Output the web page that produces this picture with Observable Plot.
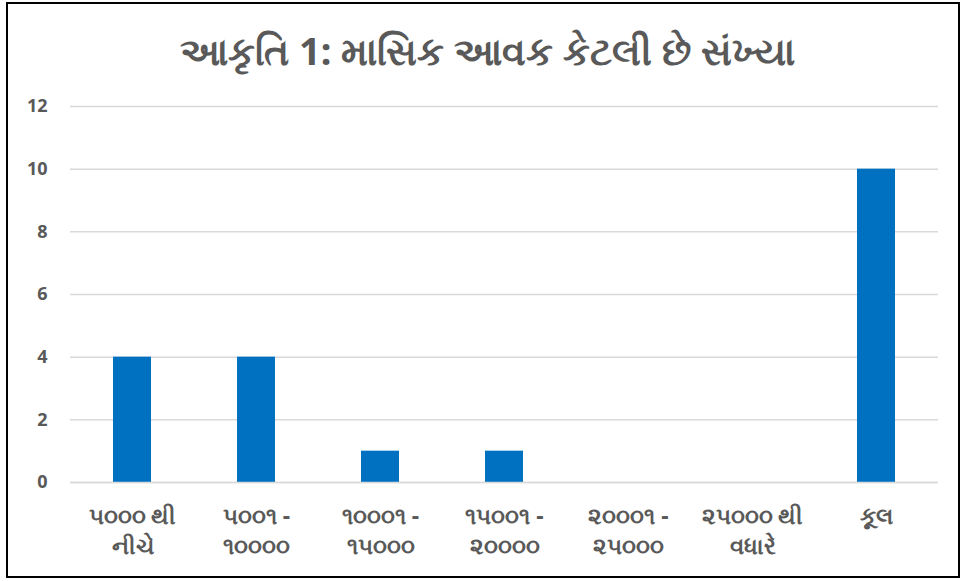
<!DOCTYPE html>
<html>
<head>
<meta charset="utf-8">
<script src="https://cdn.jsdelivr.net/npm/d3@7"></script>
<script src="https://cdn.jsdelivr.net/npm/@observablehq/plot@0.6"></script>
<style>
  html, body { margin: 0; padding: 0; background: #fff; }
  #wrap { position: relative; width: 963px; height: 581px; overflow: hidden; font-family: "Noto Sans", "Open Sans", sans-serif; }
  #frame { position: absolute; left: 6px; top: 2px; width: 950px; height: 572px; border: 2px solid #000; box-sizing: content-box; }
  #title { position: absolute; left: 0; width: 975px; top: 24px; text-align: center; font-size: 38px; font-weight: bold; color: #595959; line-height: 52px; }
  #chart { position: absolute; left: 0; top: 0; }
</style>
</head>
<body>
<div id="wrap">
  <div id="frame"></div>
  <div id="title">આકૃતિ 1: માસિક આવક કેટલી છે સંખ્યા</div>
  <div id="chart"></div>
</div>
<script>
const categories = [
  "૫૦૦૦ થી\nનીચે",
  "૫૦૦૧ -\n૧૦૦૦૦",
  "૧૦૦૦૧ -\n૧૫૦૦૦",
  "૧૫૦૦૧ -\n૨૦૦૦૦",
  "૨૦૦૦૧ -\n૨૫૦૦૦",
  "૨૫૦૦૦ થી\nવધારે",
  "કૂલ"
];
const values = [4, 4, 1, 1, 0, 0, 10];
const yTicks = [0, 2, 4, 6, 8, 10, 12];

const data = categories.map((c, i) => ({category: c, value: values[i]}));

const chart = Plot.plot({
  width: 963,
  height: 581,
  marginTop: 106,
  marginBottom: 99,
  marginLeft: 70,
  marginRight: 25,
  style: {background: "transparent", color: "#595959", fontFamily: "'Noto Sans', 'Open Sans', sans-serif"},
  x: {domain: categories, paddingInner: 0.69, paddingOuter: 0.345, align: 0.5},
  y: {domain: [0, 12], ticks: yTicks},
  marks: [
    Plot.gridY(yTicks, {stroke: "#d9d9d9", strokeOpacity: 1, strokeWidth: 1.5}),
    Plot.barY(data, {x: "category", y: "value", fill: "#0070C0"}),
    Plot.axisY(yTicks, {tickSize: 0, tickPadding: 23, fontSize: 18, fontWeight: "bold", fill: "#595959", label: null}),
    Plot.axisX({tickSize: 0, tickPadding: 20, fontSize: 23, fontWeight: "bold", fill: "#595959", lineHeight: 1.3, label: null}),
    Plot.ruleY([0], {stroke: "#d9d9d9", strokeWidth: 1.5})
  ]
});
document.getElementById("chart").appendChild(chart);
</script>
</body>
</html>
